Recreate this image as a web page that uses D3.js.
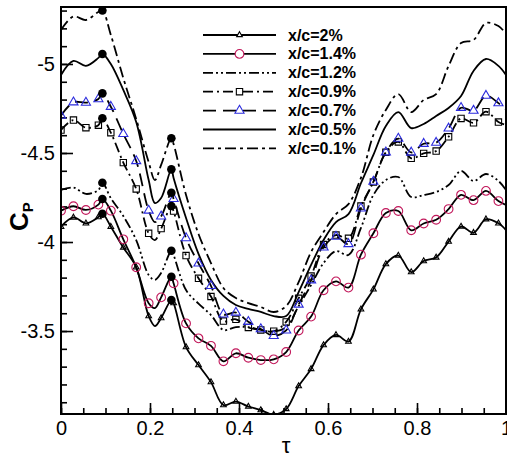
<!DOCTYPE html>
<html>
<head>
<meta charset="utf-8">
<script src="https://cdn.jsdelivr.net/npm/d3@7"></script>
<style>
body { margin: 0; background: #fff; }
text { font-family: Arial, "Liberation Sans", sans-serif; }
</style>
</head>
<body>
<svg id="chart" width="507" height="458"></svg>
<script>
// phase of the cycle (markers sit on every point but the last one)
var tau = [0, 0.028, 0.056, 0.084, 0.112, 0.140, 0.169, 0.197, 0.225, 0.253,
           0.281, 0.309, 0.337, 0.365, 0.393, 0.421, 0.449, 0.478, 0.506, 0.534,
           0.562, 0.590, 0.618, 0.646, 0.674, 0.702, 0.730, 0.758, 0.787, 0.815,
           0.843, 0.871, 0.899, 0.927, 0.955, 0.983, 1.0];

var cp2  = [-4.086, -4.138, -4.105, -4.140, -4.086, -3.969, -3.858, -3.584, -3.573, -3.657,
            -3.410, -3.309, -3.213, -3.084, -3.104, -3.076, -3.056, -3.030, -3.062, -3.191,
            -3.287, -3.421, -3.478, -3.441, -3.622, -3.734, -3.876, -3.924, -3.831, -3.893,
            -3.913, -4.002, -4.087, -4.052, -4.128, -4.105, -4.067];
var cp14 = [-4.176, -4.201, -4.180, -4.210, -4.176, -4.015, -3.858, -3.656, -3.689, -3.768,
            -3.543, -3.459, -3.417, -3.330, -3.375, -3.350, -3.337, -3.341, -3.382, -3.503,
            -3.581, -3.729, -3.779, -3.744, -3.929, -4.049, -4.163, -4.174, -4.066, -4.104,
            -4.125, -4.185, -4.265, -4.235, -4.287, -4.230, -4.208];
var cp12 = [-4.292, -4.306, -4.270, -4.292, -4.246, -4.146, -4.011, -3.815, -3.826, -3.927,
            -3.730, -3.654, -3.590, -3.506, -3.522, -3.522, -3.506, -3.497, -3.522, -3.640,
            -3.758, -3.882, -3.949, -3.927, -4.079, -4.264, -4.348, -4.365, -4.253, -4.264,
            -4.281, -4.320, -4.399, -4.343, -4.382, -4.343, -4.292];
var cp09 = [-4.629, -4.685, -4.642, -4.656, -4.614, -4.446, -4.298, -4.049, -4.075, -4.174,
            -3.924, -3.796, -3.694, -3.556, -3.566, -3.520, -3.506, -3.499, -3.551, -3.684,
            -3.809, -3.986, -4.039, -4.021, -4.202, -4.337, -4.504, -4.562, -4.470, -4.498,
            -4.511, -4.591, -4.694, -4.669, -4.732, -4.674, -4.657];
var cp07 = [-4.710, -4.785, -4.783, -4.803, -4.760, -4.607, -4.455, -4.177, -4.144, -4.242,
            -4.022, -3.880, -3.754, -3.594, -3.604, -3.552, -3.511, -3.473, -3.504, -3.649,
            -3.785, -3.970, -4.030, -3.989, -4.189, -4.339, -4.504, -4.581, -4.503, -4.552,
            -4.558, -4.638, -4.754, -4.738, -4.822, -4.780, -4.742];
var cp05 = [-4.938, -5.017, -4.989, -5.034, -5.000, -4.854, -4.674, -4.348, -4.247, -4.360,
            -4.135, -3.933, -3.787, -3.697, -3.646, -3.624, -3.607, -3.584, -3.584, -3.719,
            -3.871, -4.011, -4.112, -4.157, -4.330, -4.489, -4.652, -4.730, -4.640, -4.663,
            -4.708, -4.753, -4.820, -4.961, -5.028, -4.989, -4.938];
var cp01 = [-5.191, -5.267, -5.247, -5.292, -5.163, -4.921, -4.691, -4.449, -4.433, -4.551,
            -4.264, -4.045, -3.882, -3.742, -3.685, -3.657, -3.635, -3.607, -3.640, -3.775,
            -3.944, -4.056, -4.157, -4.213, -4.360, -4.601, -4.742, -4.831, -4.730, -4.798,
            -4.831, -4.989, -5.118, -5.135, -5.230, -5.213, -5.169];

// filled dots at two instants, one per curve (order 2% ... 0.1%); they lie on the curves
var dotTau = [0.093, 0.248];
var dotCp1 = [-4.159, -4.242, -4.333, -4.695, -4.835, -5.056, -5.300];
var dotCp2 = [-3.674, -3.805, -3.951, -4.202, -4.277, -4.408, -4.583];
// bottom of the dip between the two instants (curve only, no marker)
var dipTau = 0.211;
var dipCp  = [-3.528, -3.629, -3.787, -4.011, -4.112, -4.219, -4.348];

var labels = ["x/c=2%", "x/c=1.4%", "x/c=1.2%", "x/c=0.9%", "x/c=0.7%", "x/c=0.5%", "x/c=0.1%"];
var yMajor = [-5, -4.5, -4, -3.5];
var xMajor = [0, 0.2, 0.4, 0.6, 0.8, 1];

var series = [
    {label: labels[0], cp: cp2,  dash: null,               marker: "triS"},
    {label: labels[1], cp: cp14, dash: null,               marker: "circle"},
    {label: labels[2], cp: cp12, dash: "10,3,2,3,2,3",     marker: null},
    {label: labels[3], cp: cp09, dash: "10,4,2,4",         marker: "square"},
    {label: labels[4], cp: cp07, dash: "13,7",             marker: "triB"},
    {label: labels[5], cp: cp05, dash: null,               marker: null},
    {label: labels[6], cp: cp01, dash: "11,4,3,4",         marker: null}
];

var markerStyle = {
    triS:   {type: d3.symbolTriangle, size: 14, stroke: "#000"},
    circle: {type: d3.symbolCircle,   size: 60, stroke: "#c2185b"},
    square: {type: d3.symbolSquare,   size: 40, stroke: "#000"},
    triB:   {type: d3.symbolTriangle, size: 36, stroke: "#2b2bdd"}
};

var svg = d3.select("#chart");
var pL = 61, pR = 506, pT = 7, pB = 414;

var x = d3.scaleLinear().domain([0, 1]).range([pL, pR]);
var y = d3.scaleLinear().domain([-5.32, -3.034]).range([pT, pB]);

svg.append("defs").append("clipPath").attr("id", "plotclip")
    .append("rect")
    .attr("x", pL).attr("y", pT)
    .attr("width", pR - pL).attr("height", pB - pT);

// axes, ticks pointing into the plot
var yMinor = d3.range(-5.3, -3.05, 0.1).map(function(v) { return Math.round(v * 10) / 10; });
var xMinor = d3.range(0, 1.001, 0.05);

svg.append("g").attr("transform", "translate(" + pL + ",0)")
    .call(d3.axisLeft(y).tickValues(yMinor).tickSize(-6).tickFormat(""));
svg.append("g").attr("transform", "translate(" + pL + ",0)")
    .call(d3.axisLeft(y).tickValues(yMajor).tickSize(-12).tickPadding(6)
        .tickFormat(function(d) { return String(d); }));
svg.append("g").attr("transform", "translate(0," + pB + ")")
    .call(d3.axisBottom(x).tickValues(xMinor).tickSize(-6).tickFormat(""));
svg.append("g").attr("transform", "translate(0," + pB + ")")
    .call(d3.axisBottom(x).tickValues(xMajor).tickSize(-11).tickPadding(7)
        .tickFormat(function(d) { return String(d); }));

svg.selectAll(".domain").remove();
svg.selectAll(".tick line").attr("stroke", "#000").attr("stroke-width", 1.6);
svg.selectAll(".tick text").attr("font-size", 20).attr("fill", "#000")
    .style("font-family", "Arial, 'Liberation Sans', sans-serif");

// curves
var line = d3.line()
    .x(function(d) { return x(d.t); })
    .y(function(d) { return y(d.v); })
    .curve(d3.curveCatmullRom.alpha(0.5));

var plot = svg.append("g").attr("clip-path", "url(#plotclip)");

series.forEach(function(s, k) {
    var pts = tau.map(function(t, i) { return {t: t, v: s.cp[i], mark: i < 36}; });
    var curvePts = pts.concat([
        {t: dotTau[0], v: dotCp1[k], mark: false},
        {t: dipTau,    v: dipCp[k],  mark: false},
        {t: dotTau[1], v: dotCp2[k], mark: false}
    ]).sort(function(a, b) { return a.t - b.t; });

    plot.append("path")
        .datum(curvePts)
        .attr("d", line)
        .attr("fill", "none")
        .attr("stroke", "#000")
        .attr("stroke-width", 1.8)
        .attr("stroke-dasharray", s.dash);
    s.pts = pts;
});

series.forEach(function(s) {
    if (!s.marker) return;
    var m = markerStyle[s.marker];
    plot.selectAll(null)
        .data(s.pts.filter(function(d) { return d.mark; }))
        .enter()
        .append("path")
        .attr("d", d3.symbol().type(m.type).size(m.size))
        .attr("transform", function(d) { return "translate(" + x(d.t) + "," + y(d.v) + ")"; })
        .attr("fill", "none")
        .attr("stroke", m.stroke)
        .attr("stroke-width", 1.1);
});

// black dots
[dotCp1, dotCp2].forEach(function(arr, k) {
    svg.selectAll(null)
        .data(arr)
        .enter()
        .append("circle")
        .attr("cx", x(dotTau[k]))
        .attr("cy", function(d) { return y(d); })
        .attr("r", 4.3)
        .attr("fill", "#000");
});

// frame
svg.append("rect")
    .attr("x", pL).attr("y", pT)
    .attr("width", pR - pL).attr("height", pB - pT)
    .attr("fill", "none").attr("stroke", "#000").attr("stroke-width", 2);

// legend
var lg = svg.append("g");
series.forEach(function(s, i) {
    var ly = 35 + i * 18.9;
    lg.append("line")
        .attr("x1", 203).attr("x2", 276)
        .attr("y1", ly).attr("y2", ly)
        .attr("stroke", "#000").attr("stroke-width", 1.8)
        .attr("stroke-dasharray", s.dash);
    if (s.marker) {
        var m = markerStyle[s.marker];
        lg.append("path")
            .attr("d", d3.symbol().type(m.type).size(m.size))
            .attr("transform", "translate(239.5," + ly + ")")
            .attr("fill", "#fff")
            .attr("stroke", m.stroke)
            .attr("stroke-width", 1.1);
    }
    lg.append("text")
        .attr("x", 288).attr("y", ly + 5.5)
        .attr("font-size", 16).attr("font-weight", "bold")
        .text(s.label);
});

// axis titles
var yt = svg.append("text")
    .attr("transform", "translate(28,231) rotate(-90)")
    .attr("font-size", 26).attr("font-weight", "bold");
yt.append("tspan").text("C");
yt.append("tspan").attr("font-size", 15).attr("dy", 5).text("P");

svg.append("text")
    .attr("x", 286).attr("y", 453)
    .attr("text-anchor", "middle")
    .attr("font-size", 22)
    .text("τ");
</script>
</body>
</html>
